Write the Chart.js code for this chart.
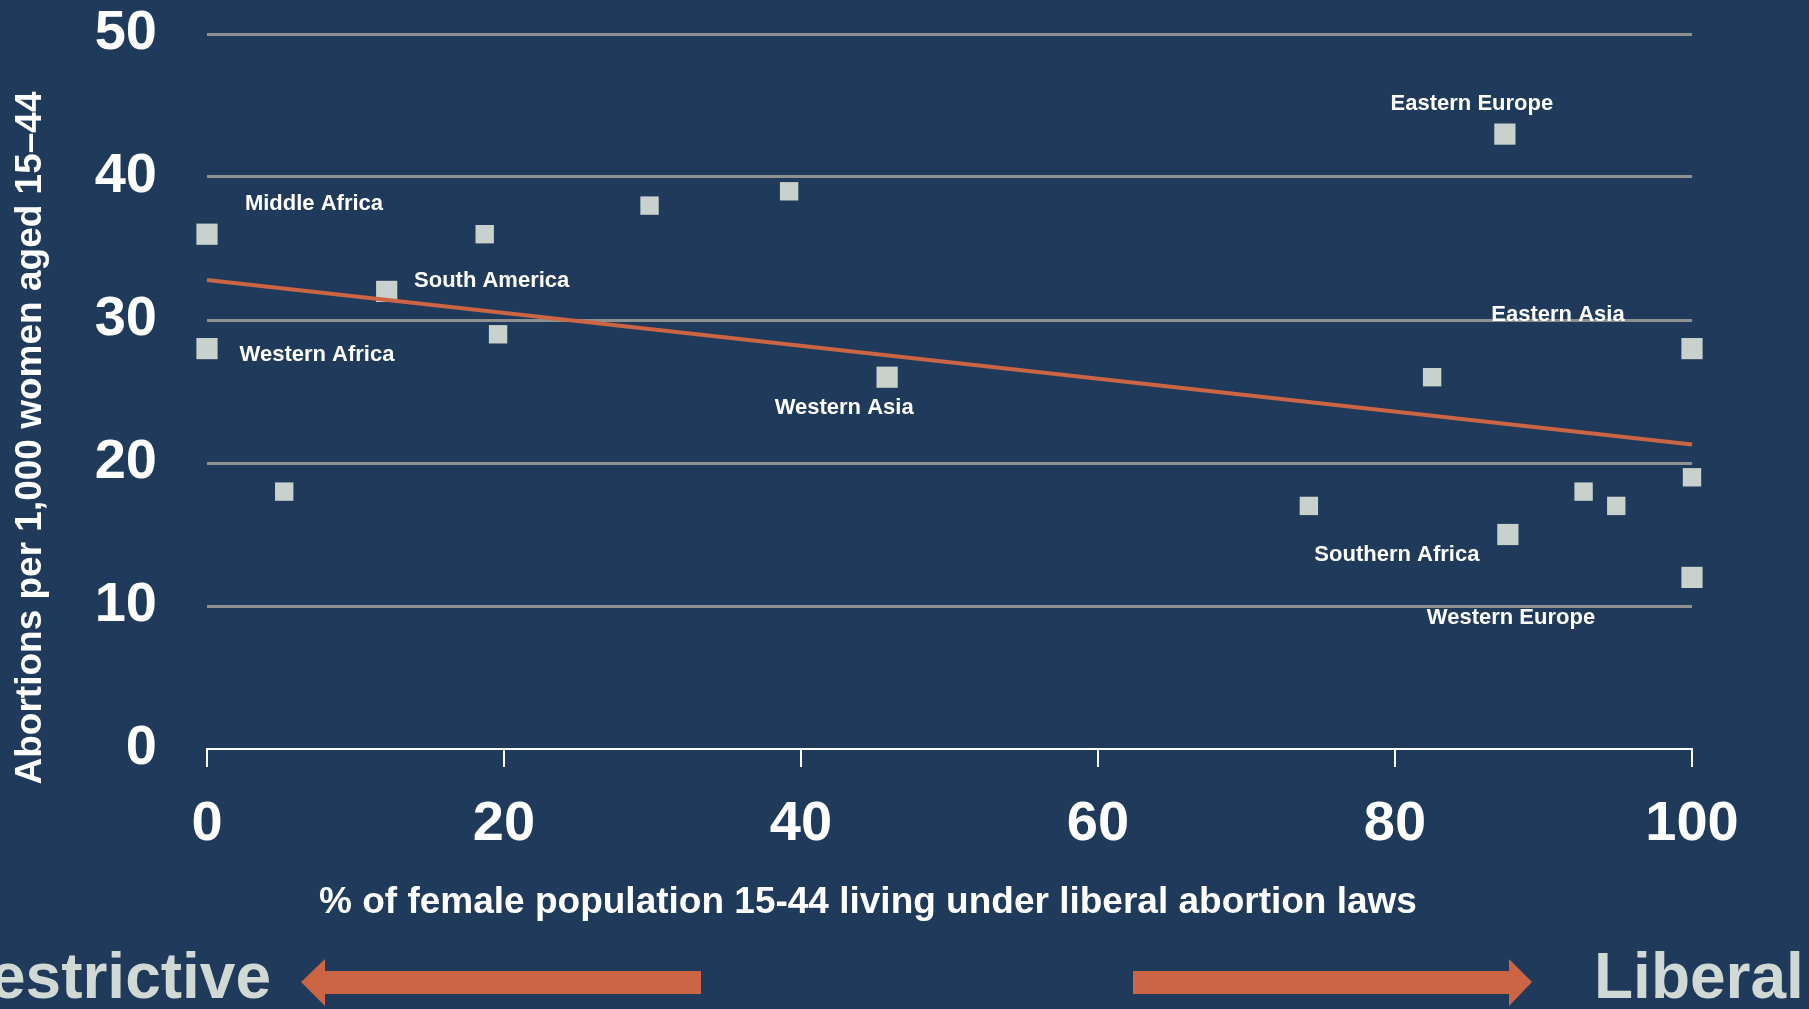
<!DOCTYPE html>
<html>
<head>
<meta charset="utf-8">
<script src="https://cdn.jsdelivr.net/npm/chart.js@4.4.1/dist/chart.umd.min.js"></script>
<style>
  html,body{margin:0;padding:0;background:#1f3a5a;overflow:hidden;}
  canvas{display:block;}
</style>
</head>
<body>
<canvas id="chart" width="1809" height="1009"></canvas>
<script>
// abortion rate vs share of women living under liberal laws, by subregion
const xValues = [0, 0, 5.2, 12.1, 18.7, 19.6, 29.8, 39.2, 45.8, 74.2, 82.5, 87.4, 87.6, 92.7, 94.9, 100, 100, 100];
const yValues = [36, 28, 18, 32, 36, 29, 38, 39, 26, 17, 26, 43, 15, 18, 17, 28, 19, 12];
const regionNames = ['Middle Africa', 'Western Africa', '', 'South America', '', '', '', '', 'Western Asia', '', '', 'Eastern Europe', 'Southern Africa', '', '', 'Eastern Asia', '', 'Western Europe'];
const trendX = [0, 100];
const trendY = [32.8, 21.3];
const xTicks = [0, 20, 40, 60, 80, 100];
const yTicks = [0, 10, 20, 30, 40, 50];
const xTitle = '% of female population 15-44 living under liberal abortion laws';
const yTitle = 'Abortions per 1,000 women aged 15\u201344';
const leftWord = 'Restrictive';
const rightWord = 'Liberal';

// label placement relative to its point (px), styling
const labelOffsets = {
  'Middle Africa': [107, -30],
  'Western Africa': [110, 6],
  'South America': [105, -10],
  'Western Asia': [-43, 31],
  'Eastern Europe': [-33, -30],
  'Eastern Asia': [-134, -34],
  'Southern Africa': [-111, 20],
  'Western Europe': [-181, 41]
};
const FONT = '"Liberation Sans", Arial, sans-serif';
const ORANGE = '#cc6544';
const MARKER = '#c9d1cd';
const PALE = '#d1d9d5';

const points = xValues.map((x, i) => ({x, y: yValues[i]}));
const trend = trendX.map((x, i) => ({x, y: trendY[i]}));

const decor = {
  id: 'decor',
  afterDatasetsDraw(chart){
    const ctx = chart.ctx;
    const meta = chart.getDatasetMeta(1);
    ctx.save();
    ctx.fillStyle = '#ffffff';
    ctx.font = 'bold 22px ' + FONT;
    ctx.textAlign = 'center';
    ctx.textBaseline = 'middle';
    regionNames.forEach((name, i) => {
      if(!name) return;
      const el = meta.data[i];
      const off = labelOffsets[name] || [0, -25];
      ctx.fillText(name, el.x + off[0], el.y + off[1]);
    });
    ctx.restore();
  },
  afterDraw(chart){
    const ctx = chart.ctx;
    ctx.save();
    ctx.fillStyle = '#ffffff';
    ctx.font = 'bold 37px ' + FONT;
    ctx.textAlign = 'center';
    ctx.textBaseline = 'middle';
    ctx.fillText(xTitle, 868, 903);
    ctx.save();
    ctx.translate(30.5, 438);
    ctx.rotate(-Math.PI / 2);
    ctx.fillText(yTitle, 0, 0);
    ctx.restore();

    ctx.fillStyle = PALE;
    ctx.font = 'bold 64px ' + FONT;
    ctx.textBaseline = 'alphabetic';
    ctx.textAlign = 'right';
    ctx.fillText(leftWord, 271, 998);
    ctx.textAlign = 'left';
    ctx.fillText(rightWord, 1594, 998);

    // arrows
    ctx.fillStyle = ORANGE;
    ctx.beginPath();
    ctx.moveTo(301, 982); ctx.lineTo(325, 959); ctx.lineTo(325, 971);
    ctx.lineTo(701, 971); ctx.lineTo(701, 994); ctx.lineTo(325, 994);
    ctx.lineTo(325, 1006); ctx.closePath(); ctx.fill();
    ctx.beginPath();
    ctx.moveTo(1532, 982); ctx.lineTo(1509, 959); ctx.lineTo(1509, 971);
    ctx.lineTo(1133, 971); ctx.lineTo(1133, 994); ctx.lineTo(1509, 994);
    ctx.lineTo(1509, 1006); ctx.closePath(); ctx.fill();
    ctx.restore();
  }
};

new Chart(document.getElementById('chart'), {
  type: 'scatter',
  data: {
    datasets: [
      {
        type: 'line', data: trend, borderColor: ORANGE, borderWidth: 4,
        pointRadius: 0, fill: false, clip: false
      },
      {
        data: points, pointStyle: 'rect', backgroundColor: MARKER, borderWidth: 0,
        pointRadius: regionNames.map(n => n ? 15 : 13), clip: false
      }
    ]
  },
  options: {
    responsive: false,
    animation: false,
    events: [],
    layout: {padding: {top: 0, right: 117, left: 0, bottom: 0}},
    plugins: {legend: {display: false}, tooltip: {enabled: false}},
    scales: {
      x: {
        type: 'linear', min: 0, max: 100,
        afterBuildTicks: s => { s.ticks = xTicks.map(v => ({value: v})); },
        afterFit: s => { s.height = 260; },
        grid: {drawOnChartArea: false, drawTicks: true, tickLength: 18, color: '#ffffff', lineWidth: 2},
        border: {display: true, color: '#ffffff', width: 2},
        ticks: {color: '#ffffff', font: {family: FONT, size: 56, weight: 'bold'}, padding: 24, maxRotation: 0}
      },
      y: {
        type: 'linear', min: 0, max: 50,
        afterBuildTicks: s => { s.ticks = yTicks.map(v => ({value: v})); },
        afterFit: s => { s.width = 207; s.paddingTop = 34; },
        grid: {drawTicks: false, lineWidth: 3, color: c => c.tick && c.tick.value === 0 ? 'rgba(0,0,0,0)' : '#8f9090'},
        border: {display: false},
        ticks: {color: '#ffffff', font: {family: FONT, size: 56, weight: 'bold'}, padding: 50}
      }
    }
  },
  plugins: [decor]
});
</script>
</body>
</html>
